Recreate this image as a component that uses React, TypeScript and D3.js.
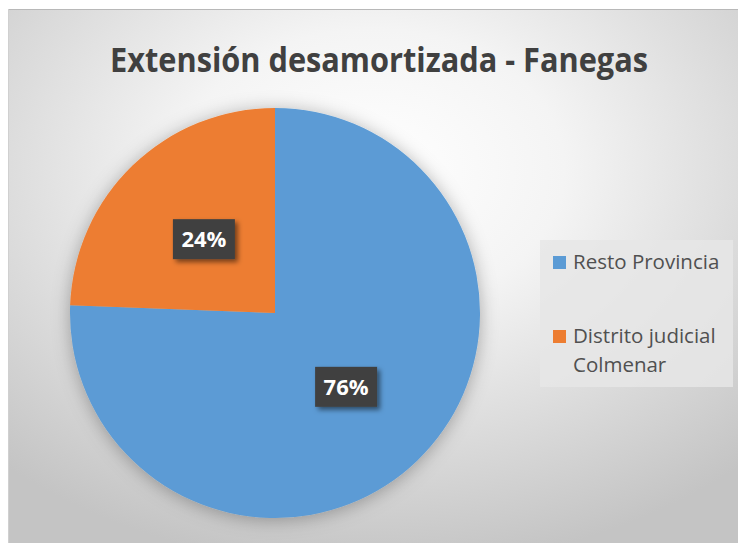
import React from "react";
import * as d3 from "d3";

const categories = ["Resto Provincia", "Distrito judicial Colmenar"];
const legendLines = [["Resto Provincia"], ["Distrito judicial", "Colmenar"]];
const shares = [75.6, 24.4];
const colors = ["#5B9BD5", "#ED7D31"];
const title = "Extensión desamortizada - Fanegas";

const W = 738;
const H = 543;

export default function App() {
  const cx = 275;
  const cy = 313;
  const r = 205;
  const pie = d3.pie<number>().sort(null).value((d) => d)(shares);
  const arc = d3.arc<d3.PieArcDatum<number>>().innerRadius(0).outerRadius(r);
  const total = d3.sum(shares);
  const fmt = (v: number) => `${Math.round((v / total) * 100)}%`;
  const font = "'Open Sans', 'Noto Sans', sans-serif";

  return (
    <svg
      width={W}
      height={H}
      style={{ position: "absolute", left: 0, top: 0, display: "block" }}
    >
      <defs>
        <radialGradient id="bg" cx="0.5" cy="0.3" r="0.75" fx="0.5" fy="0.3">
          <stop offset="0" stopColor="#ffffff" />
          <stop offset="0.35" stopColor="#f4f4f4" />
          <stop offset="1" stopColor="#c4c4c4" />
        </radialGradient>
        <filter id="pieShadow" x="-20%" y="-20%" width="140%" height="140%">
          <feDropShadow dx="0" dy="2" stdDeviation="9" floodColor="#000" floodOpacity="0.3" />
        </filter>
        <filter id="lblShadow" x="-30%" y="-30%" width="170%" height="170%">
          <feDropShadow dx="3" dy="3" stdDeviation="2.5" floodColor="#000" floodOpacity="0.5" />
        </filter>
      </defs>
      <rect x={0} y={0} width={W} height={H} fill="#ffffff" />
      <rect x={8} y={9} width={W - 8} height={H - 9} fill="url(#bg)" />
      <line x1={8} y1={9.5} x2={W} y2={9.5} stroke="#b8b8b8" strokeWidth={1} />
      <line x1={8.5} y1={9} x2={8.5} y2={H} stroke="#d0d0d0" strokeWidth={1} />

      <text
        x={379}
        y={72}
        textAnchor="middle"
        fontFamily={font}
        fontWeight="bold"
        fontSize={34}
        fill="#404040"
        textLength={538}
        lengthAdjust="spacingAndGlyphs"
      >
        {title}
      </text>

      <g transform={`translate(${cx},${cy})`}>
        <g filter="url(#pieShadow)">
          {pie.map((p, i) => (
            <path key={categories[i]} d={arc(p) || ""} fill={colors[i]} />
          ))}
        </g>
        {pie.map((p, i) => {
          const [lx, ly] = arc.centroid(p);
          const bw = 62;
          const bh = 40;
          return (
            <g key={"l" + i} transform={`translate(${lx},${ly})`}>
              <rect
                x={-bw / 2}
                y={-bh / 2}
                width={bw}
                height={bh}
                fill="#404040"
                filter="url(#lblShadow)"
              />
              <text
                x={0}
                y={8}
                textAnchor="middle"
                fontFamily={font}
                fontWeight="bold"
                fontSize={22}
                fill="#ffffff"
              >
                {fmt(p.data)}
              </text>
            </g>
          );
        })}
      </g>

      <rect x={540} y={240} width={193} height={147} fill="#e6e6e6" opacity={0.85} />
      {legendLines.map((lines, i) => {
        const baseY = i === 0 ? 269 : 343;
        return (
          <g key={"lg" + i}>
            <rect x={553} y={baseY - 13} width={13} height={13} fill={colors[i]} />
            {lines.map((t, j) => (
              <text
                key={t}
                x={573}
                y={baseY + j * 29}
                fontFamily={font}
                fontSize={20.5}
                fill="#505050"
              >
                {t}
              </text>
            ))}
          </g>
        );
      })}
    </svg>
  );
}
